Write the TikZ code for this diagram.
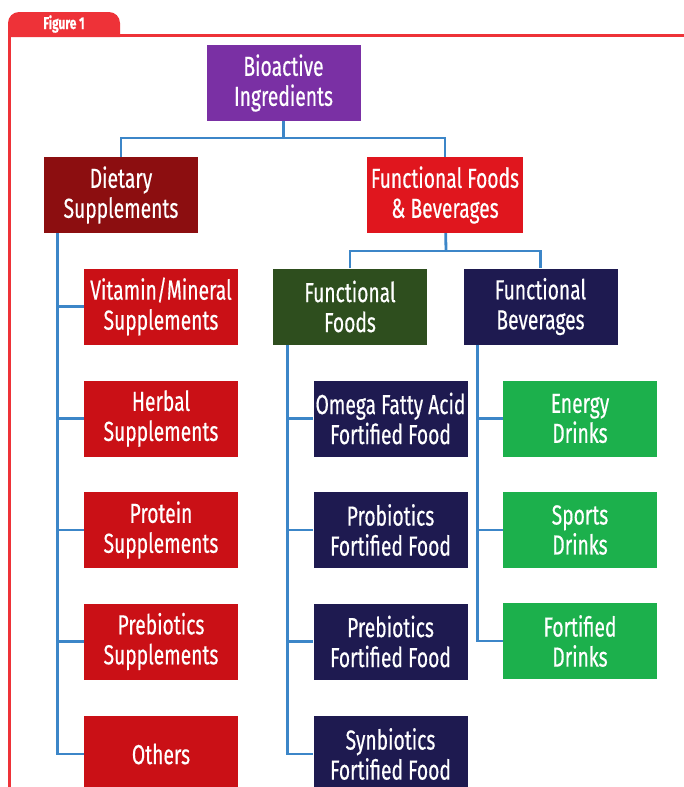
\documentclass[tikz,border=0pt]{standalone}
\usepackage{fontspec}
\setmainfont[FakeStretch=0.7,FakeBold=0.4]{Fira Sans}
\usepackage{tikz}
\usetikzlibrary{arrows}

\definecolor{framered}{RGB}{238,50,56}
\definecolor{bioviolet}{RGB}{122,48,164}
\definecolor{dietred}{RGB}{140,14,16}
\definecolor{ffbred}{RGB}{224,22,30}
\definecolor{suppred}{RGB}{202,16,22}
\definecolor{foodgreen}{RGB}{46,78,30}
\definecolor{navy}{RGB}{30,26,80}
\definecolor{drinkgreen}{RGB}{28,176,76}
\definecolor{linkblue}{RGB}{60,134,200}

\begin{document}
\begin{tikzpicture}[x=1pt,y=-1pt,
        box/.style={minimum width=154pt,minimum height=76pt,inner sep=0pt,
          text=white,align=center,font=\fontsize{27.5}{30}\selectfont},
        link/.style={draw=linkblue,line width=2.8pt}]
        \useasboundingbox (0,0) rectangle (684,787);
        \clip (0,0) rectangle (684,787);

        % frame and tab
        \fill[framered] (8,37) [rounded corners=11pt] -- (8,12) -- (120,12) [sharp corners] -- (120,37) -- cycle;
        \node (tab) at (64,24) {\textcolor{white}{\fontsize{17}{18}\selectfont\bfseries Figure 1}};
        \draw[framered,line width=2.5pt] (8,35.5) -- (684,35.5);
        \draw[framered,line width=2.5pt] (9.5,35.5) -- (9.5,787);

        % top levels
        \node[box,fill=bioviolet] (bio) at (283.5,83) {Bioactive\\Ingredients};
        \node[box,fill=dietred] (diet) at (121,195) {Dietary\\Supplements};
        \node[box,fill=ffbred,minimum width=156pt] (ffb) at (445,195) {Functional Foods\\\& Beverages};
        \node[box,fill=foodgreen] (ff) at (350,306.5) {Functional\\Foods};
        \node[box,fill=navy] (fb) at (540.5,306.5) {Functional\\Beverages};

        % supplements
        \node[box,fill=suppred] (vit) at (161,306.5) {Vitamin/Mineral\\Supplements};
        \node[box,fill=suppred] (herb) at (161,418.5) {Herbal\\Supplements};
        \node[box,fill=suppred] (prot) at (161,530) {Protein\\Supplements};
        \node[box,fill=suppred] (preb) at (161,641.5) {Prebiotics\\Supplements};
        \node[box,fill=suppred] (oth) at (161,754) {Others};

        % foods
        \node[box,fill=navy] (omega) at (390.5,418.5) {Omega Fatty Acid\\Fortified Food};
        \node[box,fill=navy] (probf) at (390.5,530) {Probiotics\\Fortified Food};
        \node[box,fill=navy] (prebf) at (390.5,641.5) {Prebiotics\\Fortified Food};
        \node[box,fill=navy] (synf) at (390.5,754) {Synbiotics\\Fortified Food};

        % beverages
        \node[box,fill=drinkgreen] (energy) at (580,418.5) {Energy\\Drinks};
        \node[box,fill=drinkgreen] (sports) at (580,530) {Sports\\Drinks};
        \node[box,fill=drinkgreen] (fortd) at (580,641) {Fortified\\Drinks};

        % connectors
        \coordinate (busA) at (283.5,138);
        \coordinate (busB) at (446,251);
        \draw[link] (bio) -- (busA);
        \draw[link] (diet.north) |- (busA) -| (ffb.north);
        \draw[link] (ffb) -- (busB);
        \draw[link] (ff.north) |- (busB) -| (fb.north);

        \coordinate (dspine) at ([xshift=14pt]diet.south west);
        \coordinate (fspine) at ([xshift=15pt]ff.south west);
        \coordinate (bspine) at ([xshift=14pt]fb.south west);
        \draw[link] (dspine) |- (oth.west);
        \draw[link] (fspine) |- (synf.west);
        \draw[link] (bspine) |- (fortd.west);
        \foreach \n in {vit,herb,prot,preb}
          \draw[link] (\n.west) -- (\n.west -| dspine);
        \foreach \n in {omega,probf,prebf}
          \draw[link] (\n.west) -- (\n.west -| fspine);
        \foreach \n in {energy,sports}
          \draw[link] (\n.west) -- (\n.west -| bspine);
      \end{tikzpicture}
\end{document}
